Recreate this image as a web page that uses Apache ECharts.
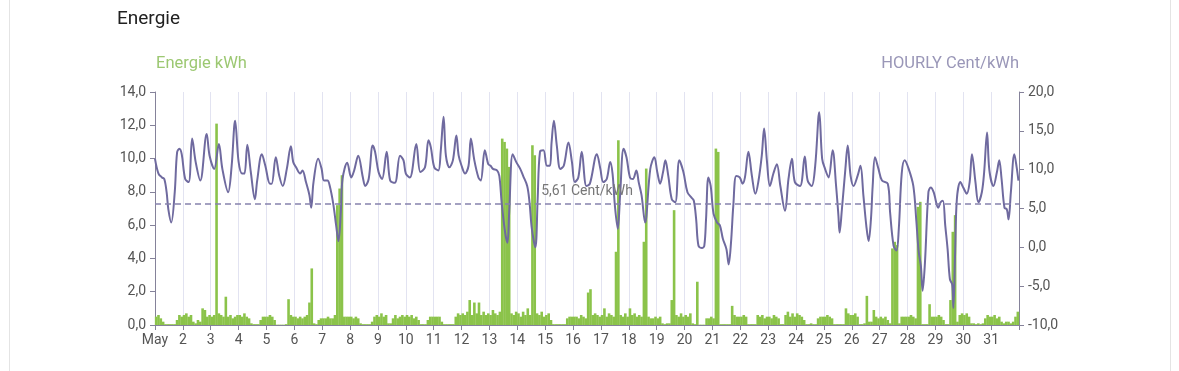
<!DOCTYPE html>
<html>
<head>
<meta charset="utf-8">
<script src="https://cdn.jsdelivr.net/npm/echarts@6/dist/echarts.min.js"></script>
<style>
html,body{margin:0;padding:0;background:#fff;}
#card{position:absolute;left:9px;top:-10px;width:1160px;height:400px;border-left:1px solid #e4e4e4;border-right:1px solid #e4e4e4;}
#chart{position:absolute;left:0;top:0;width:1179px;height:371px;}
</style>
</head>
<body>
<div id="card"></div>
<div id="chart"></div>
<script>
// x axis: hours since May 1 00:00, one tick per day
const dayLabels = ['May','2','3','4','5','6','7','8','9','10','11','12','13','14','15','16','17','18','19','20','21','22','23','24','25','26','27','28','29','30','31'];
const leftTicks = [0,2,4,6,8,10,12,14];
const rightTicks = [-10,-5,0,5,10,15,20];
const avgPrice = 5.61;

// Energie kWh, 2-hour bins, 12 per day (May 1 .. May 31)
const energyKwh = [
 0.5,0.6,0.4,0.2,0.05,0.05,0.05,0.05,0.05,0.3,0.6,0.5,
 0.6,0.7,0.5,0.6,0.2,0.1,0.3,0.2,1.0,0.9,0.5,0.6,
 0.5,0.6,12.1,0.7,0.6,0.5,1.7,0.5,0.6,0.4,0.5,0.6,
 0.6,0.5,0.7,0.5,0.4,0.1,0.05,0.05,0.05,0.3,0.5,0.5,
 0.5,0.6,0.5,0.3,0.02,0.02,0.02,0.02,0.05,1.55,0.6,0.5,
 0.5,0.4,0.5,0.4,0.5,0.6,1.35,3.4,0.1,0.05,0.3,0.4,
 0.4,0.4,0.5,0.4,0.4,0.6,7.2,8.2,9.0,0.5,0.5,0.5,
 0.5,0.4,0.5,0.4,0.1,0.05,0.05,0.05,0.05,0.2,0.5,0.6,
 0.5,0.7,0.5,0.6,0.1,0.1,0.4,0.6,0.4,0.5,0.6,0.5,
 0.6,0.5,0.6,0.4,0.5,0.3,0.05,0.05,0.05,0.3,0.5,0.5,
 0.5,0.5,0.5,0.2,0.05,0.05,0.05,0.05,0.05,0.5,0.7,0.6,
 0.7,0.6,0.8,1.5,0.6,1.35,0.7,1.35,0.6,0.8,0.6,0.7,
 0.6,0.9,0.7,0.6,0.8,11.2,11.0,10.6,9.5,0.7,0.6,0.8,
 0.7,0.5,0.8,0.6,1.0,0.6,10.8,10.2,0.7,0.6,0.8,0.5,
 0.6,0.7,0.3,0.05,0.05,0.05,0.05,0.05,0.05,0.4,0.5,0.5,
 0.5,0.5,0.4,0.6,0.5,0.4,1.95,2.15,0.6,0.7,0.6,0.5,
 0.6,1.0,0.5,0.7,0.6,0.5,4.4,11.1,0.6,0.5,0.7,0.5,
 1.0,0.6,0.7,0.5,0.6,0.5,5.0,9.4,0.5,0.4,0.4,0.5,
 0.4,0.5,0.1,0.05,0.1,0.1,1.5,6.9,0.6,0.5,0.7,0.5,
 0.6,0.5,0.7,0.1,0.05,2.6,0.02,0.02,0.02,0.4,0.4,0.5,
 0.4,10.6,10.4,0.05,0.05,0.05,0.05,0.05,1.15,0.6,0.5,0.5,
 0.5,0.6,0.5,0.05,0.05,0.05,0.05,0.6,0.5,0.6,0.4,0.5,
 0.5,0.4,0.6,0.5,0.4,0.05,0.05,0.6,0.8,0.5,0.7,0.5,
 0.7,0.6,0.5,0.3,0.05,0.05,0.1,0.05,0.05,0.4,0.5,0.5,
 0.5,0.6,0.5,0.4,0.05,0.05,0.05,0.05,0.05,1.0,0.7,0.6,
 0.6,0.7,0.5,0.05,0.05,0.1,1.75,0.2,0.2,0.9,0.5,0.4,
 0.5,0.4,0.5,0.3,0.1,4.6,5.0,4.8,0.1,0.5,0.5,0.5,
 0.5,0.6,0.5,0.4,7.1,7.4,0.05,0.05,0.05,1.25,0.5,0.5,
 0.5,0.6,0.5,0.3,0.05,0.05,1.5,5.6,6.6,0.2,0.6,0.7,
 0.6,0.7,0.5,0.1,0.1,0.05,0.1,0.05,0.1,0.4,0.6,0.5,
 0.5,0.6,0.4,0.5,0.2,0.1,0.2,0.2,0.1,0.2,0.5,0.8
];

// HOURLY Cent/kWh: [hour since May 1 00:00, price]
const priceHourly = [
 [0,11.4],[3,9.5],[6,9.0],[8,8.8],[10,7.1],[11.5,4.9],[14,3.2],[17,7.1],[19,12.2],[21,12.7],[23,12.0],[26,8.8],[29,8.4],[32,14.0],[35,11.0],[39,8.6],[44.5,14.6],[47,11.8],[51,10.1],[55,13.3],[58,10.1],[63,7.1],[66,10.5],[69,16.3],[72,11.0],[75,9.5],[77,9.5],[79.5,13.2],[82.5,9.7],[86,6.2],
 [88,8.6],[92,12.0],[95,10.5],[99,8.2],[100.5,8.2],[104,11.6],[107,9.2],[110,7.9],[113.5,10.1],[117,13.0],[119,11.0],[121.5,10.3],[125,9.5],[127,9.9],[130,8.4],[133,6.7],[134.5,5.1],[136.5,8.4],[140.5,11.4],[143.5,10.1],[145.5,8.6],[148.5,8.6],[150.5,7.9],[153.5,5.6],[156,2.8],[158,0.8],[160,4.5],[161.5,8.8],[165.5,10.9],[169,9.0],[171.5,9.9],[175,11.8],
 [179,9.0],[181,7.9],[184,8.8],[187.5,13.1],[189.5,12.3],[192.5,9.7],[195.5,8.8],[199.5,12.3],[202.5,8.6],[206.5,8.3],[211,11.8],[214,11.2],[216,9.5],[219.5,9.0],[225,13.3],[228.5,9.7],[232.5,10.3],[235.5,13.8],[237.5,12.9],[240.5,10.3],[244,9.9],[246,12.3],[248.5,16.8],[250.5,11.8],[253.5,10.3],[256.5,11.2],[259.5,14.4],[261.5,11.8],[264,10.5],[267,9.5],[270,10.5],[272,14.0],
 [275,11.2],[278.5,9.0],[280.5,8.6],[284,12.5],[287,10.7],[289,10.5],[291,10.1],[294.5,9.9],[296.5,9.2],[298.5,5.8],[301.5,1.9],[303.5,0.6],[305,4.5],[308,12.0],[311,11.0],[314.5,10.1],[317,9.2],[320.5,7.9],[322.5,5.8],[324.5,2.4],[327.5,0.0],[329.5,6.2],[331.5,12.3],[334.5,12.5],[337.5,10.5],[340,10.5],[341.5,13.5],[343.5,16.3],[346,13.1],[349,10.1],[352,10.5],[356,13.5],[359,11.0],[361.5,8.4],[364.5,9.0],[367.5,12.3],
 [371.5,7.9],[374.5,8.2],[380.5,12.0],[383.5,10.1],[386,8.4],[389,8.8],[392,11.0],[394,9.5],[396,5.4],[398.5,2.4],[400.5,6.7],[403.5,12.7],[406,11.6],[409,9.0],[411.5,8.8],[414.5,9.9],[416.5,8.4],[419,6.7],[422,3.2],[426.5,10.1],[430,11.6],[432.5,9.7],[435,8.2],[437.5,9.7],[439.5,11.2],[442,9.2],[445,6.2],[448,5.8],[451.5,11.2],[455,9.7],[458.5,7.1],[462,6.4],
 [464,6.0],[466,3.6],[468,0.2],[471,-0.1],[473,0.2],[474.5,3.6],[476.5,9.0],[478.5,7.9],[481,4.3],[484,3.2],[486.5,2.8],[489,1.1],[492,-0.2],[494,-2.2],[496,0.6],[498,5.4],[500.5,9.2],[503.5,9.0],[506,8.2],[508,9.0],[511,12.3],[514,9.2],[517,6.9],[519.5,8.4],[522.5,11.8],[524.5,15.3],[527,11.0],[529.5,7.9],[532.5,9.5],[535.5,10.7],[538.5,7.9],[542.5,4.7],[545.5,8.8],[548.5,11.4],[551,8.4],[555.5,7.9],
 [559.5,11.7],[562,8.6],[565.5,7.9],[568.5,10.5],[572,17.4],[574.5,11.4],[577,10.1],[580,9.0],[583.5,12.5],[586.5,7.9],[588.5,4.1],[589.5,1.9],[591.5,4.9],[594.5,10.1],[596.5,13.1],[599,9.2],[601.5,7.9],[605,9.2],[607.5,10.5],[610,6.7],[612.5,2.8],[614.5,0.8],[616.5,3.6],[618,7.9],[620,11.6],[623,10.1],[626,8.6],[631,8.2],[633,4.5],[636,0.2],[638.5,-0.4],[640.5,2.4],[643,9.5],[645.5,11.2],[649,10.1],[653,7.9],
 [655.5,3.6],[657.5,-0.4],[659.5,-2.4],[661,-5.6],[663,-2.0],[666,7.1],[668,7.7],[670.5,7.1],[674.5,5.1],[676.5,5.8],[678.5,6.0],[680.5,2.8],[682.5,-0.2],[684.5,-4.1],[686.5,-4.8],[687.5,-7.8],[689,-0.7],[690.5,6.2],[693.5,8.4],[696,7.7],[699,6.9],[701.5,8.4],[703.5,12.0],[706.5,8.4],[709,5.8],[712,7.1],[714,9.7],[716.5,14.8],[718.5,9.9],[722,7.9],[725,9.7],[727,11.2],[729,8.8],[731.5,5.1],[733.5,4.9],[735,3.6],[737,7.1],[740,12.0],[742,10.3],[743.5,8.6]
];

const BIN_HOURS = 2;
const HOURS_PER_DAY = 24;
const energyData = energyKwh.map((v, i) => [i * BIN_HOURS + BIN_HOURS / 2, v]);
const fmt = v => v.toFixed(1).replace('.', ',');
const fmtAvg = v => v.toFixed(2).replace('.', ',');

const chart = echarts.init(document.getElementById('chart'), null, {renderer: 'canvas'});
const axisCol = '#85829a';
const font = 'Roboto, "Noto Sans", sans-serif';
chart.setOption({
  animation: false,
  title: {text: 'Energie', left: 112, top: 5, textStyle: {fontFamily: font, fontSize: 19, fontWeight: 'normal', color: '#212121'}},
  grid: {left: 155, right: 160, top: 92, bottom: 46, containLabel: false},
  xAxis: {
    type: 'value', min: 0, max: dayLabels.length * HOURS_PER_DAY, interval: HOURS_PER_DAY,
    axisLine: {show: true, lineStyle: {color: axisCol, width: 1}},
    axisTick: {show: true, length: 5, lineStyle: {color: axisCol}},
    axisLabel: {fontFamily: font, fontSize: 14, color: '#555', margin: 8,
      formatter: v => { const d = Math.round(v / HOURS_PER_DAY); return d < dayLabels.length ? dayLabels[d] : ''; }},
    splitLine: {show: true, lineStyle: {color: '#e2e3f1', width: 1}}
  },
  yAxis: [
    {type: 'value', min: leftTicks[0], max: leftTicks[leftTicks.length-1], interval: leftTicks[1]-leftTicks[0], position: 'left',
     name: 'Energie kWh', nameLocation: 'end', nameGap: 20,
     nameTextStyle: {fontFamily: font, fontSize: 16.5, color: '#9cc872', align: 'left', padding: [0,0,0,1]},
     axisLine: {show: true, lineStyle: {color: axisCol, width: 1}},
     axisTick: {show: true, length: 5, lineStyle: {color: axisCol}},
     axisLabel: {fontFamily: font, fontSize: 14, color: '#555', margin: 9, formatter: fmt},
     splitLine: {show: false}},
    {type: 'value', min: rightTicks[0], max: rightTicks[rightTicks.length-1], interval: rightTicks[1]-rightTicks[0], position: 'right',
     name: 'HOURLY Cent/kWh', nameLocation: 'end', nameGap: 20,
     nameTextStyle: {fontFamily: font, fontSize: 16.5, color: '#9a97b8', align: 'right'},
     axisLine: {show: true, lineStyle: {color: axisCol, width: 1}},
     axisTick: {show: true, length: 5, lineStyle: {color: axisCol}},
     axisLabel: {fontFamily: font, fontSize: 14, color: '#555', margin: 9, formatter: fmt},
     splitLine: {show: false}}
  ],
  series: [
    {type: 'bar', name: 'Energie kWh', xAxisIndex: 0, yAxisIndex: 0, data: energyData,
     barWidth: 2.6, itemStyle: {color: '#8bc34a'}, z: 2},
    {type: 'line', name: 'HOURLY Cent/kWh', xAxisIndex: 0, yAxisIndex: 1, data: priceHourly,
     smooth: 0.35, showSymbol: false, lineStyle: {color: '#6f6a9f', width: 2}, z: 3,
     markLine: {silent: true, symbol: 'none',
       lineStyle: {color: '#8783ad', type: [6, 4], width: 1.5},
       label: {show: true, position: 'middle', formatter: fmtAvg(avgPrice) + ' Cent/kWh', fontFamily: font, fontSize: 14, color: '#777', distance: 5},
       data: [{yAxis: avgPrice}]}}
  ]
});
</script>
</body>
</html>
